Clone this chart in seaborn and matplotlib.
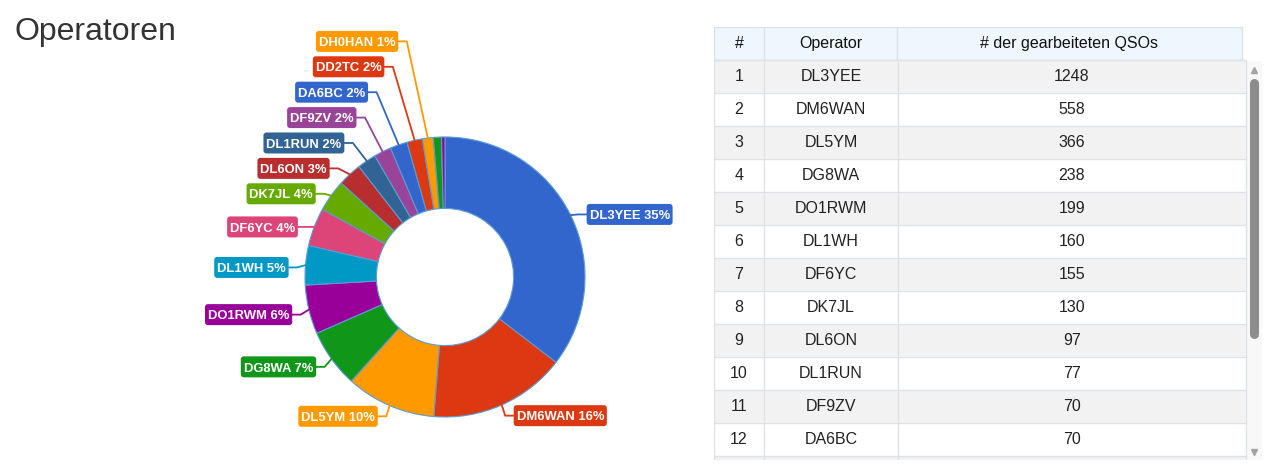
import numpy as np
import matplotlib
matplotlib.use("Agg")
import matplotlib.pyplot as plt
import seaborn as sns
from matplotlib.patches import FancyBboxPatch
from matplotlib.textpath import TextPath
from matplotlib.font_manager import FontProperties

# Daten
operators = ["DL3YEE", "DM6WAN", "DL5YM", "DG8WA", "DO1RWM", "DL1WH", "DF6YC",
             "DK7JL", "DL6ON", "DL1RUN", "DF9ZV", "DA6BC", "DD2TC", "DH0HAN",
             "weitere 1", "weitere 2"]
qsos = [1248, 558, 366, 238, 199, 160, 155, 130, 97, 77, 70, 70, 63, 44, 33, 14]
table_rows = 12
header = ["#", "Operator", "# der gearbeiteten QSOs"]
title = "Operatoren"

palette = sns.color_palette(["#3366cc", "#dc3912", "#ff9900", "#109618", "#990099",
                             "#0099c6", "#dd4477", "#66aa00", "#b82e2e", "#316395",
                             "#994499"])
colors = [palette[i % len(palette)] for i in range(len(qsos))]

sns.set_style("white")
plt.rcParams['font.family'] = ['Liberation Sans', 'DejaVu Sans']

W, H = 1268, 473
fig = plt.figure(figsize=(W / 100, H / 100), dpi=100)

# ---- Donut ----
cx, cy, R = 445, 277, 140
px = 1 / R
ax = fig.add_axes([0, 0, 1, 1])
ax.pie(qsos, colors=colors, startangle=90, counterclock=False, radius=1,
       wedgeprops=dict(width=0.51, edgecolor='#5b9bd5', linewidth=0.8))
ax.set_xlim(-cx / R, (W - cx) / R)
ax.set_ylim(-(H - cy) / R, cy / R)
ax.axis('off')

total = sum(qsos)
frac = np.array(qsos) / total
mids = np.cumsum(frac) - frac / 2
sx, sy = np.sin(2 * np.pi * mids), np.cos(2 * np.pi * mids)
gap = 25.4 * px
labelled = [i for i in range(len(qsos)) if frac[i] >= 0.01]
left = sorted([i for i in labelled if sx[i] < 0], key=lambda i: sy[i])
right = sorted([i for i in labelled if sx[i] >= 0], key=lambda i: -sy[i])

ly = {}
prev = None
for i in left:  # von unten nach oben schieben
    y = 1.06 * sy[i] - 3 * px
    if prev is not None:
        y = max(y, prev + gap)
    ly[i] = y
    prev = y
prev = None
for i in right:  # von oben nach unten schieben
    y = 1.06 * sy[i] - 3 * px
    if prev is not None:
        y = min(y, prev - gap)
    ly[i] = y
    prev = y

lab_px = 13.0
lab_font = FontProperties(family='Liberation Sans', weight='bold')
for i in labelled:
    side = -1 if sx[i] < 0 else 1
    x0, y0 = sx[i], sy[i]
    shift = abs(ly[i] - (1.06 * y0 - 3 * px)) / px
    ex = 1.06 * x0 + (side * min(5 + 0.3 * shift, 20) * px if shift > 1 else 0)
    bx = ex + side * 8.5 * px
    ax.plot([x0, ex, bx], [y0, ly[i], ly[i]], color=colors[i], lw=1.3)
    pct = int(frac[i] * 100 + 0.5)
    s = f"{operators[i]} {pct}%"
    tw = TextPath((0, 0), s, size=lab_px, prop=lab_font).get_extents().width
    bw, bh = (tw + 7) * px, 21 * px
    left_edge = bx if side > 0 else bx - bw
    ax.add_patch(FancyBboxPatch((left_edge, ly[i] - bh / 2), bw, bh,
                                boxstyle=f'round,pad=0,rounding_size={3 * px}',
                                fc=colors[i], ec='none', zorder=3))
    ax.text(left_edge + bw / 2, ly[i] - 0.716 * lab_px / 2 * px, s,
            ha='center', va='baseline', color='white',
            fontsize=lab_px * 0.72, fontweight='bold', zorder=4)

fig.text(14 / W, 1 - 40 / H, title, fontsize=23, color='#333333', va='baseline', ha='left')

# ---- Tabelle ----
tx0, tx1, ty0, ty1 = 714, 1262, 27, 460
row_h = 33
n_vis = (ty1 - ty0) / row_h - 1
body_w, head_w = 532, 528
tax = fig.add_axes([tx0 / W, 1 - ty1 / H, (tx1 - tx0) / W, (ty1 - ty0) / H])
tax.set_xlim(0, tx1 - tx0)
tax.set_ylim(n_vis, -1)
tax.axis('off')

line_c = '#dee2e6'
stripe = ['#f2f2f2' if k % 2 == 0 else 'white' for k in range(table_rows + 1)]
tax.barh(np.arange(table_rows + 1) + 0.5, body_w, left=0, height=1, color=stripe)
tax.barh(-0.5, head_w, left=0, height=1, color='#eef6fe', edgecolor=line_c, linewidth=1)
tax.barh(n_vis / 2, tx1 - tx0 - body_w, left=body_w, height=n_vis, color='#f8f8f8')

tax.hlines(np.arange(table_rows + 2), 0, body_w, color=line_c, lw=1)
tax.vlines([0, 50, 184, body_w], 0, n_vis, color=line_c, lw=1)
tax.vlines([50, 183], -1, 0, color=line_c, lw=1)

head_x = [25, 116.5, 355.5]
body_x = [25, 117, 358]
for x, h in zip(head_x, header):
    tax.text(x, -0.5, h, ha='center', va='center', fontsize=11.5, color='#111111')
for k in range(table_rows):
    vals = [str(k + 1), operators[k], str(qsos[k])]
    for x, v in zip(body_x, vals):
        tax.text(x, k + 0.5, v, ha='center', va='center', fontsize=11.5, color='#222222')

# Scrollbar
sb_x = 540
tax.plot([sb_x, sb_x], [(79 - ty0) / row_h - 1 + 4 / row_h, (338 - ty0) / row_h - 1 - 4 / row_h],
         color='#8c8c8c', lw=6.5, solid_capstyle='round')
tax.plot(sb_x, (70 - ty0) / row_h - 1, marker='^', color='#a3a3a3', markersize=5)
tax.plot(sb_x, (452 - ty0) / row_h - 1, marker='v', color='#a3a3a3', markersize=5)

fig.savefig("out.png", dpi=100)
